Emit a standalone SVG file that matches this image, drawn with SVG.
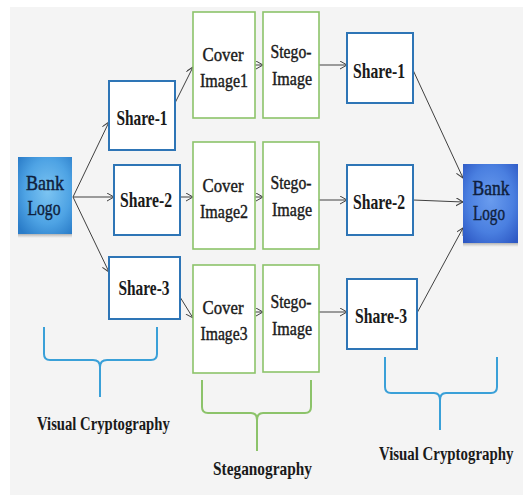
<svg xmlns="http://www.w3.org/2000/svg" width="523" height="497" viewBox="0 0 523 497">
<style>
.blue{fill:#fff;stroke:#2e75b6;stroke-width:2}
.green{fill:#fff;stroke:#8cc36a;stroke-width:1.6}
.t{font-family:"Liberation Serif",serif;fill:#1a1a1a;text-anchor:middle}
.b{font-weight:bold;font-size:21px}
.n{font-size:18px;stroke:#1a1a1a;stroke-width:0.4}
.lbl{font-family:"Liberation Serif",serif;font-weight:bold;fill:#1a1a1a;font-size:19px}
.logo{font-family:"Liberation Serif",serif;fill:#0f1f3d;stroke:#0f1f3d;stroke-width:0.45;text-anchor:middle;font-size:21px}
.arr{stroke:#404040;stroke-width:1;fill:none;marker-end:url(#ah)}
.bb{stroke:#3aa0d8;stroke-width:2;fill:none}
.gb{stroke:#8cc36a;stroke-width:2;fill:none}
</style>
<defs>
<marker id="ah" markerUnits="userSpaceOnUse" markerWidth="10" markerHeight="10" refX="7" refY="4" orient="auto">
<path d="M0,0 L7,4 L0,8" fill="none" stroke="#404040" stroke-width="1"/>
</marker>
<radialGradient id="g1" cx="0.55" cy="0.45" r="0.7">
<stop offset="0" stop-color="#7cc4f2"/>
<stop offset="0.6" stop-color="#4ea3e4"/>
<stop offset="1" stop-color="#2a7cc8"/>
</radialGradient>
<radialGradient id="g2" cx="0.5" cy="0.45" r="0.7">
<stop offset="0" stop-color="#6a9cee"/>
<stop offset="0.6" stop-color="#4a7fe0"/>
<stop offset="1" stop-color="#2d58c4"/>
</radialGradient>
<linearGradient id="sh" x1="0" y1="0" x2="0" y2="1">
<stop offset="0" stop-color="#777" stop-opacity="0.7"/>
<stop offset="1" stop-color="#999" stop-opacity="0"/>
</linearGradient>
</defs>
<rect x="0" y="0" width="523" height="497" fill="#ffffff"/>
<rect x="10" y="7" width="513" height="488" fill="#f4f4f4"/>

<g id="connectors">
<line class="arr" x1="73" y1="197" x2="109" y2="122"/>
<line class="arr" x1="73" y1="197" x2="114" y2="197"/>
<line class="arr" x1="73" y1="197" x2="109" y2="272"/>
<line class="arr" x1="175" y1="103" x2="193" y2="67"/>
<line class="arr" x1="180" y1="197" x2="193" y2="197"/>
<line class="arr" x1="180" y1="297" x2="193" y2="318"/>
<line class="arr" x1="255" y1="65" x2="263" y2="65"/>
<line class="arr" x1="255" y1="197" x2="263" y2="197"/>
<line class="arr" x1="255" y1="312" x2="263" y2="312"/>
<line class="arr" x1="319" y1="65" x2="347" y2="65"/>
<line class="arr" x1="319" y1="200" x2="347" y2="200"/>
<line class="arr" x1="319" y1="312" x2="347" y2="312"/>
<line class="arr" x1="413" y1="70" x2="463" y2="178"/>
<line class="arr" x1="413" y1="200" x2="463" y2="202"/>
<line class="arr" x1="417" y1="313" x2="463" y2="228"/>
</g>

<g id="bank-logo-left">
<rect x="18" y="233" width="54" height="5" fill="url(#sh)"/>
<rect x="18" y="157" width="54" height="77" fill="url(#g1)"/>
<text class="logo" x="45" y="190" textLength="38" lengthAdjust="spacingAndGlyphs">Bank</text>
<text class="logo" x="44" y="215" textLength="33" lengthAdjust="spacingAndGlyphs">Logo</text>
</g>

<g id="share1-left">
<rect class="blue" x="109" y="81" width="66" height="69"/>
<text class="t b" x="142" y="125" textLength="51" lengthAdjust="spacingAndGlyphs">Share-1</text>
</g>
<g id="share2-left">
<rect class="blue" x="114" y="165" width="66" height="70"/>
<text class="t b" x="146" y="207" textLength="52" lengthAdjust="spacingAndGlyphs">Share-2</text>
</g>
<g id="share3-left">
<rect class="blue" x="109" y="257" width="71" height="62"/>
<text class="t b" x="144" y="295" textLength="51" lengthAdjust="spacingAndGlyphs">Share-3</text>
</g>

<g id="cover1">
<rect class="green" x="193" y="12" width="62" height="106"/>
<text class="t n" x="223" y="61" textLength="41" lengthAdjust="spacingAndGlyphs">Cover</text>
<text class="t n" x="224" y="87" textLength="48" lengthAdjust="spacingAndGlyphs">Image1</text>
</g>
<g id="cover2">
<rect class="green" x="193" y="142" width="62" height="107"/>
<text class="t n" x="223" y="192" textLength="41" lengthAdjust="spacingAndGlyphs">Cover</text>
<text class="t n" x="224" y="218" textLength="48" lengthAdjust="spacingAndGlyphs">Image2</text>
</g>
<g id="cover3">
<rect class="green" x="193" y="265" width="62" height="108"/>
<text class="t n" x="223" y="314" textLength="41" lengthAdjust="spacingAndGlyphs">Cover</text>
<text class="t n" x="224" y="340" textLength="47" lengthAdjust="spacingAndGlyphs">Image3</text>
</g>

<g id="stego1">
<rect class="green" x="263" y="12" width="56" height="106"/>
<text class="t n" x="291" y="58" textLength="41" lengthAdjust="spacingAndGlyphs">Stego-</text>
<text class="t n" x="292" y="85" textLength="40" lengthAdjust="spacingAndGlyphs">Image</text>
</g>
<g id="stego2">
<rect class="green" x="263" y="142" width="56" height="107"/>
<text class="t n" x="291" y="189" textLength="41" lengthAdjust="spacingAndGlyphs">Stego-</text>
<text class="t n" x="292" y="216" textLength="40" lengthAdjust="spacingAndGlyphs">Image</text>
</g>
<g id="stego3">
<rect class="green" x="263" y="265" width="56" height="107"/>
<text class="t n" x="291" y="308" textLength="41" lengthAdjust="spacingAndGlyphs">Stego-</text>
<text class="t n" x="292" y="335" textLength="40" lengthAdjust="spacingAndGlyphs">Image</text>
</g>

<g id="share1-right">
<rect class="blue" x="347" y="33" width="66" height="70"/>
<text class="t b" x="379" y="78" textLength="52" lengthAdjust="spacingAndGlyphs">Share-1</text>
</g>
<g id="share2-right">
<rect class="blue" x="347" y="165" width="66" height="70"/>
<text class="t b" x="379" y="209" textLength="52" lengthAdjust="spacingAndGlyphs">Share-2</text>
</g>
<g id="share3-right">
<rect class="blue" x="347" y="279" width="70" height="70"/>
<text class="t b" x="381" y="323" textLength="52" lengthAdjust="spacingAndGlyphs">Share-3</text>
</g>

<g id="bank-logo-right">
<rect x="463" y="242" width="55" height="5" fill="url(#sh)"/>
<rect x="463" y="164" width="55" height="79" fill="url(#g2)"/>
<text class="logo" x="491" y="195" textLength="37" lengthAdjust="spacingAndGlyphs">Bank</text>
<text class="logo" x="489" y="220" textLength="32" lengthAdjust="spacingAndGlyphs">Logo</text>
</g>

<g id="brace-vc-left">
<path class="bb" d="M44,327 V354 Q44,360 50,360 H93 Q100,360 100,367 V397 M100,367 Q100,360 107,360 H151 Q157,360 157,354 V327"/>
<text class="lbl" transform="translate(37,430) scale(0.8,1)" x="0" y="0" textLength="166" lengthAdjust="spacingAndGlyphs">Visual Cryptography</text>
</g>
<g id="brace-steg">
<path class="gb" d="M202,380 V407 Q202,413 208,413 H251 Q257,413 257,420 V451 M257,420 Q257,413 263,413 H305 Q311,413 311,407 V380"/>
<text class="lbl" x="213" y="475" textLength="99" lengthAdjust="spacingAndGlyphs">Steganography</text>
</g>
<g id="brace-vc-right">
<path class="bb" d="M385,357 V387 Q385,393 391,393 H434 Q440,393 440,400 V430 M440,400 Q440,393 446,393 H491 Q497,393 497,387 V357"/>
<text class="lbl" transform="translate(379,460) scale(0.8,1)" x="0" y="0" textLength="168" lengthAdjust="spacingAndGlyphs">Visual Cryptography</text>
</g>
</svg>
